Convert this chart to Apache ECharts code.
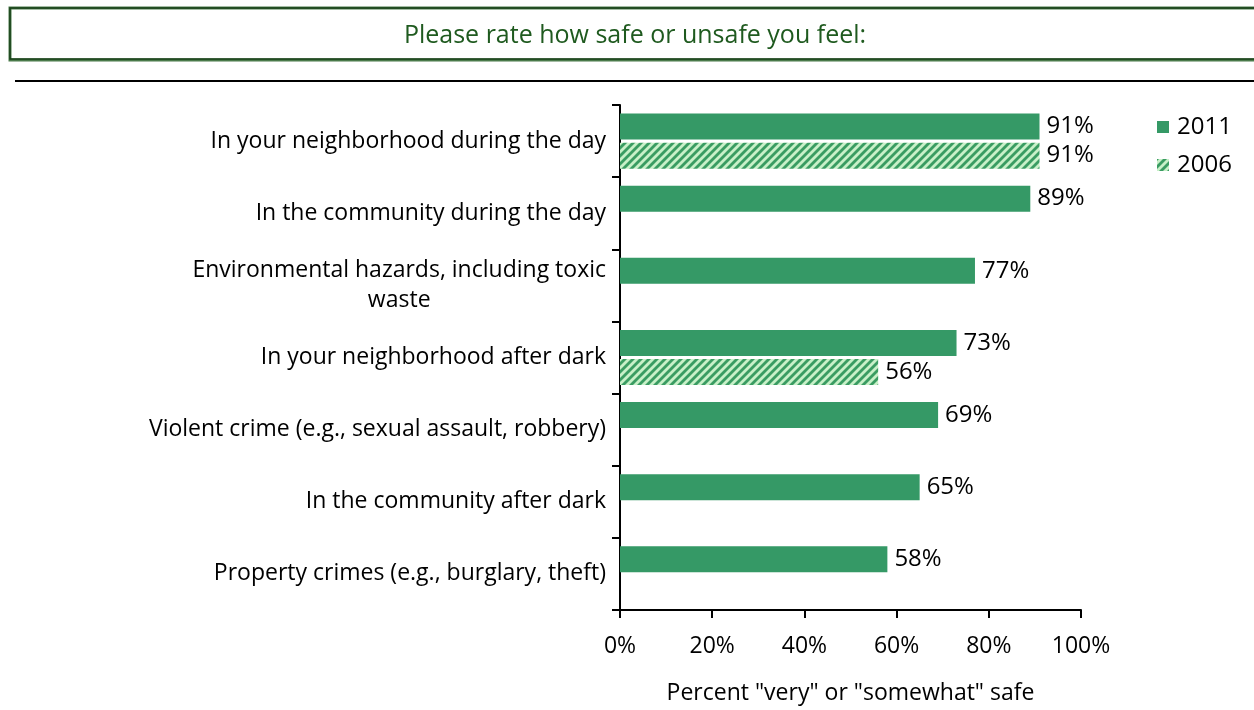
<!DOCTYPE html>
<html><head><meta charset="utf-8">
<script src="https://cdn.jsdelivr.net/npm/echarts@6/dist/echarts.min.js"></script>
<style>html,body{margin:0;padding:0;background:#fff}#c{width:1254px;height:710px}</style>
</head><body><div id="c"></div>
<script>
const categories = [
  "In your neighborhood during the day",
  "In the community during the day",
  "Environmental hazards, including toxic\nwaste",
  "In your neighborhood after dark",
  "Violent crime (e.g., sexual assault, robbery)",
  "In the community after dark",
  "Property crimes (e.g., burglary, theft)"
];
const values2011 = [91, 89, 77, 73, 69, 65, 58];
const values2006 = [91, null, null, 56, null, null, null];
const xTicks = [0, 20, 40, 60, 80, 100];
const seriesNames = ["2011", "2006"];
const titleText = "Please rate how safe or unsafe you feel:";
const xAxisName = 'Percent "very" or "somewhat" safe';

const FONT = "Open Sans";
// hatch pattern
const pc = document.createElement('canvas');
pc.width = 8; pc.height = 8;
const ctx = pc.getContext('2d');
ctx.fillStyle = '#c8f0c8';
ctx.fillRect(0,0,8,8);
ctx.strokeStyle = '#3a9c62';
ctx.lineWidth = 2.8;
for (let k=-2;k<=2;k++){
  ctx.beginPath();
  ctx.moveTo(k*8-2, 10); ctx.lineTo(k*8+10, -2);
  ctx.stroke();
}
const hatch = {image: pc, repeat: 'repeat'};
const green = '#359966';

const chart = echarts.init(document.getElementById('c'), null, {renderer:'canvas'});
chart.setOption({
  animation: false,
  textStyle: {fontFamily: FONT},
  title: {
    text: titleText, left: 630, top: 18, textAlign: 'center',
    textStyle: {fontFamily: FONT, fontWeight: 'normal', fontSize: 25, color: '#1f5a1f'}
  },
  graphic: [
    {type:'rect', shape:{x:10, y:8, width:1260, height:52}, style:{fill:'none', stroke:'#4a7a4a', lineWidth:3}, z:-2},
    {type:'rect', shape:{x:10, y:8, width:1260, height:51}, style:{fill:'none', stroke:'#173f17', lineWidth:1.5}, z:-1},
    {type:'line', shape:{x1:15, y1:81, x2:1254, y2:81}, style:{stroke:'#000', lineWidth:2}}
  ],
  legend: {
    orient: 'vertical', left: 1152, top: 110, itemWidth: 12, itemHeight: 12, itemGap: 14,
    textStyle: {fontFamily: FONT, fontSize: 24, color: '#000', padding: [0,0,0,3]},
    data: [
      {name: seriesNames[0], icon: 'rect'},
      {name: seriesNames[1], icon: 'rect'}
    ]
  },
  grid: {left: 620, right: 173, top: 105, bottom: 95, containLabel: false},
  xAxis: {
    type: 'value', min: 0, max: 100, interval: 20,
    axisLine: {show: true, lineStyle: {color: '#000', width: 2}},
    axisTick: {show: true, length: 8, lineStyle: {color: '#000', width: 2}},
    splitLine: {show: false},
    axisLabel: {formatter: v => v + '%', fontFamily: FONT, fontSize: 23, color: '#000', margin: 25},
    name: xAxisName, nameLocation: 'middle', nameGap: 72,
    nameTextStyle: {fontFamily: FONT, fontSize: 23, color: '#000'}
  },
  yAxis: {
    type: 'category', data: categories, inverse: true,
    axisLine: {show: true, lineStyle: {color: '#000', width: 2}},
    axisTick: {show: true, length: 8, lineStyle: {color: '#000', width: 2}},
    axisLabel: {
      fontFamily: FONT, fontSize: 23, color: '#000', margin: 14, lineHeight: 30,
      formatter: v => v.indexOf('\n') >= 0 ? v.split('\n').map(s => '{c|' + s + '}').join('\n') : v,
      rich: {c: {fontFamily: FONT, fontSize: 23, color: '#000', align: 'center', lineHeight: 30}}
    }
  },
  series: [
    {
      name: seriesNames[0], type: 'bar', data: values2011, barWidth: 26, barGap: '12%',
      itemStyle: {color: green},
      label: {show: true, position: 'right', distance: 7, formatter: p => p.value + '%', fontFamily: FONT, fontSize: 24, color: '#000'}
    },
    {
      name: seriesNames[1], type: 'bar', data: values2006, barWidth: 26,
      itemStyle: {color: hatch},
      label: {show: true, position: 'right', distance: 7, formatter: p => p.value + '%', fontFamily: FONT, fontSize: 24, color: '#000'}
    }
  ]
});
</script></body></html>
